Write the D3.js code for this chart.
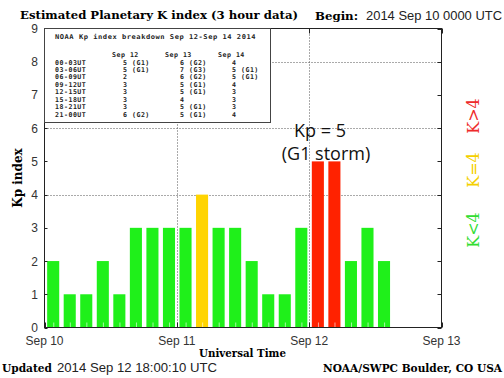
<!DOCTYPE html>
<html>
<head>
<meta charset="utf-8">
<script src="https://cdn.jsdelivr.net/npm/d3@7"></script>
<style>
  body { margin: 0; background: #fff; }
  svg { display: block; }
</style>
</head>
<body>
<svg id="chart" width="504" height="378"></svg>
<script>
// 3-hour Kp values, Sep 10 00UT .. Sep 12 15UT
const slotStarts = [
  "2014-09-10T00:00Z", "2014-09-10T03:00Z", "2014-09-10T06:00Z", "2014-09-10T09:00Z",
  "2014-09-10T12:00Z", "2014-09-10T15:00Z", "2014-09-10T18:00Z", "2014-09-10T21:00Z",
  "2014-09-11T00:00Z", "2014-09-11T03:00Z", "2014-09-11T06:00Z", "2014-09-11T09:00Z",
  "2014-09-11T12:00Z", "2014-09-11T15:00Z", "2014-09-11T18:00Z", "2014-09-11T21:00Z",
  "2014-09-12T00:00Z", "2014-09-12T03:00Z", "2014-09-12T06:00Z", "2014-09-12T09:00Z",
  "2014-09-12T12:00Z"
];
const kpValues = [2, 1, 1, 2, 1, 3, 3, 3, 3, 4, 3, 3, 2, 1, 1, 3, 5, 5, 2, 3, 2];

const dayTicks = ["2014-09-10T00:00Z", "2014-09-11T00:00Z", "2014-09-12T00:00Z", "2014-09-13T00:00Z"];
const yTicks = [0, 1, 2, 3, 4, 5, 6, 7, 8, 9];
const yGrid = [4, 6, 8];

// forecast breakdown table
const tableTitle = "NOAA Kp index breakdown Sep 12-Sep 14 2014";
const tableDays = ["Sep 12", "Sep 13", "Sep 14"];
const tableSlots = ["00-03UT", "03-06UT", "06-09UT", "09-12UT", "12-15UT", "15-18UT", "18-21UT", "21-00UT"];
const tableSep12 = ["5 (G1)", "5 (G1)", "2", "3", "3", "3", "3", "6 (G2)"];
const tableSep13 = ["6 (G2)", "7 (G3)", "6 (G2)", "5 (G1)", "5 (G1)", "4", "5 (G1)", "5 (G1)"];
const tableSep14 = ["4", "5 (G1)", "5 (G1)", "4", "3", "3", "3", "4"];

const green = "#1ff01a", yellow = "#ffd400", red = "#ff2200";
const serif = "'DejaVu Serif', 'Liberation Serif', serif";
const sans = "'Liberation Sans', Arial, sans-serif";
const mono = "'DejaVu Sans Mono', 'Liberation Mono', monospace";

const svg = d3.select("#chart");
const pLeft = 44.5, pRight = 441.5, pTop = 28.5, pBottom = 327.5;

const x = d3.scaleUtc()
  .domain([new Date(dayTicks[0]), new Date(dayTicks[3])])
  .range([pLeft, pRight]);
const y = d3.scaleLinear().domain([0, 9]).range([pBottom, pTop]);

const barColor = v => v > 4 ? red : (v === 4 ? yellow : green);
const bars = slotStarts.map((s, i) => ({ start: new Date(s), value: kpValues[i] }));
const slotW = d => x(d3.utcHour.offset(d.start, 3)) - x(d.start);
const snap = v => Math.round(v) + 0.5;

// grid (dotted)
const grid = svg.append("g").attr("stroke", "#555").attr("stroke-dasharray", "1,2");
grid.selectAll("line.h").data(yGrid).enter().append("line")
  .attr("x1", pLeft).attr("x2", pRight)
  .attr("y1", d => snap(y(d))).attr("y2", d => snap(y(d)));
grid.selectAll("line.v").data(dayTicks.slice(1, 3)).enter().append("line")
  .attr("x1", d => snap(x(new Date(d)))).attr("x2", d => snap(x(new Date(d))))
  .attr("y1", pTop).attr("y2", pBottom);

// bars
svg.append("g").selectAll("rect").data(bars).enter().append("rect")
  .attr("x", d => x(d.start) + slotW(d) * 0.16)
  .attr("width", d => slotW(d) * 0.73)
  .attr("y", d => y(d.value))
  .attr("height", d => y(0) - y(d.value))
  .attr("fill", d => barColor(d.value));

// pale minor ticks at bar centres
svg.append("g").selectAll("line").data(bars).enter().append("line")
  .attr("x1", d => x(d3.utcMinute.offset(d.start, 90)) + 1)
  .attr("x2", d => x(d3.utcMinute.offset(d.start, 90)) + 1)
  .attr("y1", pBottom).attr("y2", pBottom - 5)
  .attr("stroke", "#fff").attr("stroke-opacity", 0.6);

// frame
svg.append("rect")
  .attr("x", pLeft).attr("y", pTop)
  .attr("width", pRight - pLeft).attr("height", pBottom - pTop)
  .attr("fill", "none").attr("stroke", "#222");

// y ticks both sides, inward
const yt = svg.append("g").attr("stroke", "#222");
yt.selectAll("line.l").data(yTicks).enter().append("line")
  .attr("x1", pLeft).attr("x2", pLeft + 3)
  .attr("y1", d => snap(y(d))).attr("y2", d => snap(y(d)));
yt.selectAll("line.r").data(yTicks).enter().append("line")
  .attr("x1", pRight).attr("x2", pRight - 4)
  .attr("y1", d => snap(y(d))).attr("y2", d => snap(y(d)));
svg.append("g").selectAll("text").data(yTicks).enter().append("text")
  .attr("x", 38).attr("y", d => y(d) + 4.5)
  .attr("text-anchor", "end")
  .attr("font-family", sans).attr("font-size", 12).attr("fill", "#333")
  .text(d => d);

// x ticks top and bottom, inward
const xt = svg.append("g").attr("stroke", "#222");
xt.selectAll("line.b").data(dayTicks).enter().append("line")
  .attr("x1", d => snap(x(new Date(d)))).attr("x2", d => snap(x(new Date(d))))
  .attr("y1", pBottom).attr("y2", pBottom - 5);
xt.selectAll("line.t").data(dayTicks).enter().append("line")
  .attr("x1", d => snap(x(new Date(d)))).attr("x2", d => snap(x(new Date(d))))
  .attr("y1", pTop).attr("y2", pTop + 5);
svg.append("g").selectAll("text").data(dayTicks).enter().append("text")
  .attr("x", d => x(new Date(d)))
  .attr("y", 345)
  .attr("text-anchor", "middle")
  .attr("font-family", sans).attr("font-size", 12).attr("fill", "#333")
  .text(d => d3.utcFormat("%b %-d")(new Date(d)));

// table box
svg.append("rect")
  .attr("x", pLeft).attr("y", pTop).attr("width", 226).attr("height", 94)
  .attr("fill", "#fff").attr("stroke", "#444");
const tbl = svg.append("g")
  .attr("font-family", mono).attr("font-weight", "bold")
  .attr("font-size", 6.6).attr("letter-spacing", 0.5).attr("fill", "#222")
  .style("white-space", "pre");
tbl.append("text").attr("x", 55).attr("y", 38.5)
  .attr("textLength", 201).attr("lengthAdjust", "spacingAndGlyphs").text(tableTitle);
const colX = [112, 165, 218];
tbl.selectAll("text.hd").data(tableDays).enter().append("text")
  .attr("x", (d, i) => colX[i]).attr("y", 57).text(d => d);
const rowY = i => 64.5 + i * 7.45;
tbl.selectAll("text.sl").data(tableSlots).enter().append("text")
  .attr("x", 55).attr("y", (d, i) => rowY(i)).text(d => d);
[tableSep12, tableSep13, tableSep14].forEach((col, c) => {
  const vx = [123, 180, 232][c];
  tbl.selectAll("text.c" + c).data(col).enter().append("text")
    .attr("x", vx).attr("y", (d, i) => rowY(i))
    .text(d => d.replace(" ", "  "));
});

// storm annotation
svg.append("text").attr("x", 320).attr("y", 137)
  .attr("text-anchor", "middle").attr("font-family", "'Open Sans', sans-serif")
  .attr("font-size", 18).attr("fill", "#111").text("Kp = 5");
svg.append("text").attr("x", 326).attr("y", 160)
  .attr("text-anchor", "middle").attr("font-family", "'Open Sans', sans-serif")
  .attr("font-size", 18).attr("fill", "#111").text("(G1 storm)");

// colour key on the right
const keyLabels = ["K>4", "K=4", "K<4"];
const keyColors = ["#ee2a2a", "#f4d000", "#33dd33"];
const keyCenters = [116, 170, 230];
svg.append("g").selectAll("text").data(keyLabels).enter().append("text")
  .attr("transform", (d, i) => `translate(479,${keyCenters[i]}) rotate(-90)`)
  .attr("text-anchor", "middle")
  .attr("font-family", serif).attr("font-size", 16)
  .attr("fill", (d, i) => keyColors[i])
  .text(d => d);

// titles and labels
svg.append("text").attr("x", 20).attr("y", 19)
  .attr("font-family", serif).attr("font-weight", "bold").attr("font-size", 11.5)
  .attr("textLength", 278).attr("lengthAdjust", "spacingAndGlyphs")
  .text("Estimated Planetary K index (3 hour data)");
svg.append("text").attr("x", 315).attr("y", 20)
  .attr("font-family", serif).attr("font-weight", "bold").attr("font-size", 11.5)
  .attr("textLength", 43).attr("lengthAdjust", "spacingAndGlyphs")
  .text("Begin:");
svg.append("text").attr("x", 366).attr("y", 20)
  .attr("font-family", sans).attr("font-size", 12.5).attr("fill", "#222")
  .attr("textLength", 136).attr("lengthAdjust", "spacingAndGlyphs")
  .text("2014 Sep 10 0000 UTC");

svg.append("text").attr("transform", "translate(22,178) rotate(-90)")
  .attr("text-anchor", "middle")
  .attr("font-family", serif).attr("font-weight", "bold").attr("font-size", 12)
  .text("Kp index");
svg.append("text").attr("x", 199).attr("y", 357)
  .attr("font-family", serif).attr("font-weight", "bold").attr("font-size", 11.5)
  .attr("textLength", 87).attr("lengthAdjust", "spacingAndGlyphs")
  .text("Universal Time");

svg.append("text").attr("x", 2).attr("y", 372)
  .attr("font-family", serif).attr("font-weight", "bold").attr("font-size", 11.5)
  .attr("textLength", 50).attr("lengthAdjust", "spacingAndGlyphs")
  .text("Updated");
svg.append("text").attr("x", 57).attr("y", 372)
  .attr("font-family", sans).attr("font-size", 12.5).attr("fill", "#222")
  .attr("textLength", 160).attr("lengthAdjust", "spacingAndGlyphs")
  .text("2014 Sep 12 18:00:10 UTC");
svg.append("text").attr("x", 502).attr("y", 372)
  .attr("text-anchor", "end")
  .attr("font-family", serif).attr("font-weight", "bold").attr("font-size", 10.4)
  .attr("textLength", 179).attr("lengthAdjust", "spacingAndGlyphs")
  .text("NOAA/SWPC Boulder, CO USA");
</script>
</body>
</html>
